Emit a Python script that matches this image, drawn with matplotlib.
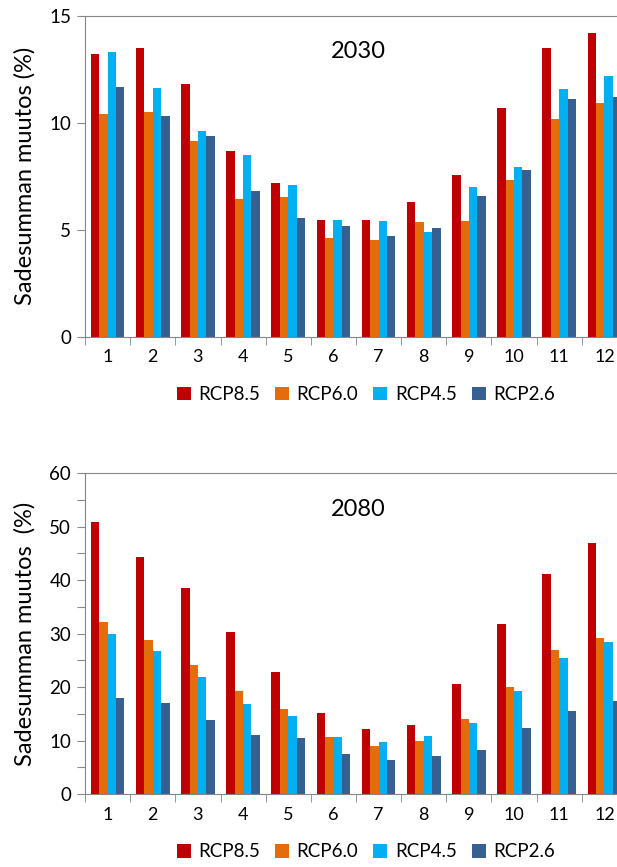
import matplotlib
matplotlib.use("Agg")
import matplotlib.pyplot as plt
import numpy as np

plt.rcParams['font.family'] = ['Lato', 'DejaVu Sans']

months = [str(m) for m in range(1, 13)]
scenarios = ['RCP8.5', 'RCP6.0', 'RCP4.5', 'RCP2.6']
colors = ['#C00000', '#E46C0A', '#00B0F0', '#376092']

# 2030 change in precipitation (%)
rcp85_2030 = [13.2, 13.5, 11.8, 8.7, 7.2, 5.45, 5.45, 6.3, 7.55, 10.7, 13.5, 14.2]
rcp60_2030 = [10.4, 10.5, 9.15, 6.45, 6.55, 4.6, 4.5, 5.35, 5.4, 7.35, 10.2, 10.95]
rcp45_2030 = [13.3, 11.65, 9.6, 8.5, 7.1, 5.45, 5.4, 4.9, 7.0, 7.95, 11.6, 12.2]
rcp26_2030 = [11.7, 10.3, 9.4, 6.8, 5.55, 5.2, 4.7, 5.1, 6.6, 7.8, 11.1, 11.2]

# 2080 change in precipitation (%)
rcp85_2080 = [50.8, 44.4, 38.5, 30.3, 22.8, 15.2, 12.2, 12.9, 20.5, 31.8, 41.1, 47.0]
rcp60_2080 = [32.2, 28.8, 24.2, 19.3, 15.9, 10.7, 8.9, 10.0, 14.0, 20.1, 27.0, 29.2]
rcp45_2080 = [29.9, 26.8, 21.8, 16.8, 14.6, 10.6, 9.8, 10.9, 13.3, 19.3, 25.4, 28.5]
rcp26_2080 = [17.9, 17.0, 13.8, 11.1, 10.4, 7.4, 6.3, 7.2, 8.3, 12.4, 15.5, 17.4]

W, H = 617, 867
fig = plt.figure(figsize=(W / 100, H / 100), dpi=100)

spine_col = '#868686'
bar_w = 0.186


def draw_panel(ax, series, year, ymax, ystep, ylabel):
    x = np.arange(len(months))
    for i, (vals, col, name) in enumerate(zip(series, colors, scenarios)):
        ax.bar(x + (i - 1.5) * bar_w, vals, bar_w, color=col, label=name)
    ax.set_xlim(-0.5, len(months) - 0.5)
    ax.set_ylim(0, ymax)
    ax.set_xticks(x)
    ax.set_xticklabels(months, fontsize=13)
    ax.set_xticks(np.arange(-0.5, len(months)), minor=True)
    ax.tick_params(axis='x', which='major', length=0, pad=9)
    ax.tick_params(axis='x', which='minor', length=6, color=spine_col, direction='out')
    ticks = np.arange(0, ymax + 1, ystep)
    every = 2 * ystep if ymax > 30 else ystep
    ax.set_yticks(ticks)
    ax.set_yticklabels([f'{v:g}' if v % every == 0 else '' for v in ticks], fontsize=13.5)
    ax.tick_params(axis='y', length=6, color=spine_col, pad=4)
    for s in ['left', 'top', 'bottom']:
        ax.spines[s].set_color(spine_col)
    ax.spines['right'].set_visible(False)
    ax.set_ylabel(ylabel, fontsize=17)
    ax.yaxis.set_label_coords(-0.092, 0.5)
    ax.text(0.504, 0.888, year, transform=ax.transAxes, ha='center', va='center', fontsize=17)
    ax.legend(loc='center', bbox_to_anchor=(0.518, -0.18), ncol=4, frameon=False,
              fontsize=13.5, handlelength=0.75, handleheight=0.75, handletextpad=0.4,
              columnspacing=0.8)


left = 85 / W
width = (627 - 85) / W
height = 320.7 / H

ax1 = fig.add_axes([left, (H - 336.7) / H, width, height])
draw_panel(ax1, [rcp85_2030, rcp60_2030, rcp45_2030, rcp26_2030], '2030', 15, 5,
           'Sadesumman muutos (%)')

ax2 = fig.add_axes([left, (H - 794) / H, width, height])
draw_panel(ax2, [rcp85_2080, rcp60_2080, rcp45_2080, rcp26_2080], '2080', 60, 5,
           'Sadesumman muutos  (%)')

fig.savefig('out.png', dpi=100)
